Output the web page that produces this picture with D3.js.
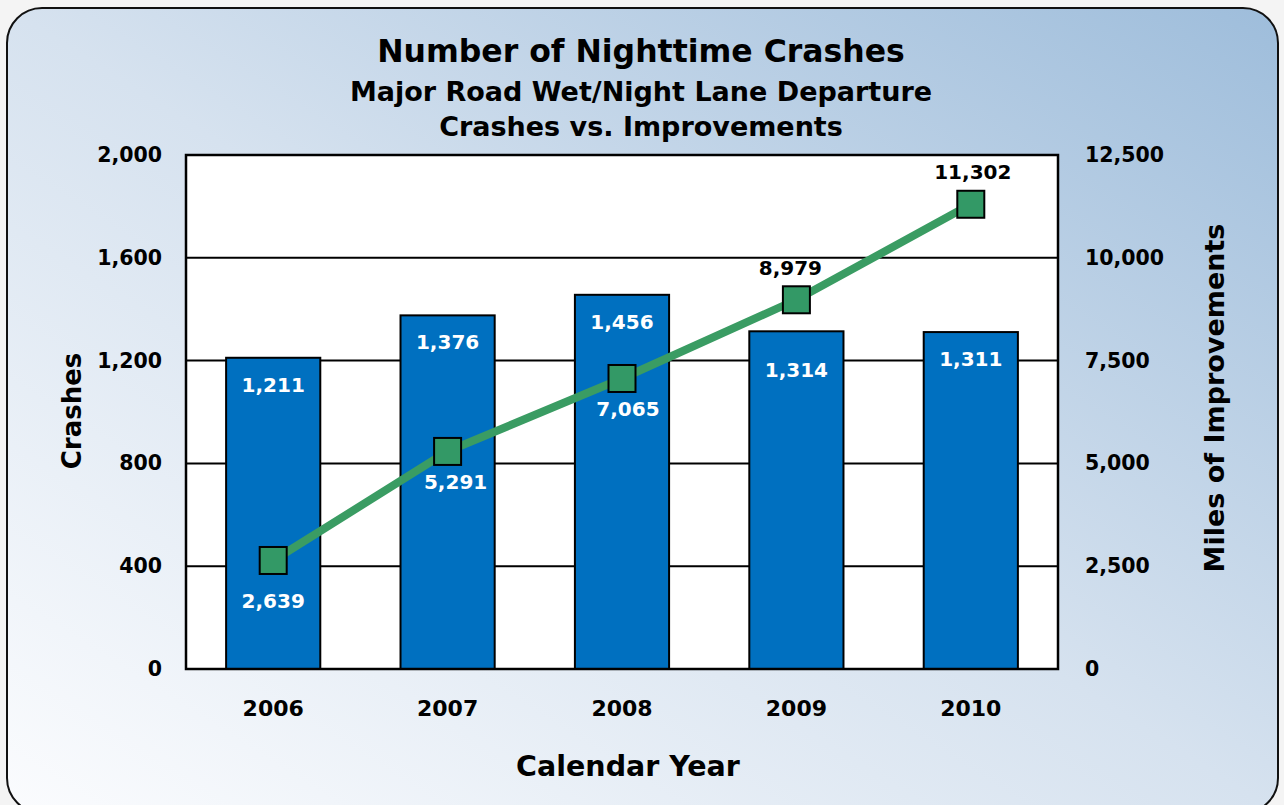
<!DOCTYPE html>
<html><head><meta charset="utf-8">
<script src="https://cdn.jsdelivr.net/npm/d3@7"></script>
<style>
html,body{margin:0;padding:0;background:#f4f4f4;}
svg{display:block;font-family:"DejaVu Sans",sans-serif;font-weight:bold;}
</style></head>
<body>
<svg id="c" width="1284" height="805"></svg>
<script>
const years = ["2006","2007","2008","2009","2010"];
const crashes = [1211, 1376, 1456, 1314, 1311];
const miles = [2639, 5291, 7065, 8979, 11302];
const leftTicks = [0, 400, 800, 1200, 1600, 2000];
const rightTicks = [0, 2500, 5000, 7500, 10000, 12500];
const titleLines = ["Number of Nighttime Crashes", "Major Road Wet/Night Lane Departure", "Crashes vs. Improvements"];

const svg = d3.select("#c");
const defs = svg.append("defs");
const g = defs.append("linearGradient").attr("id","bg").attr("x1",0).attr("y1",1).attr("x2",1).attr("y2",0);
g.append("stop").attr("offset","0%").attr("stop-color","#fbfcfe");
g.append("stop").attr("offset","50%").attr("stop-color","#d6e2ef");
g.append("stop").attr("offset","100%").attr("stop-color","#9ebddb");

svg.append("rect").attr("x",7).attr("y",8).attr("width",1271).attr("height",805)
  .attr("rx",35).attr("fill","url(#bg)").attr("stroke","#111").attr("stroke-width",2);

const L=186, R=1058, T=155, B=669;
const fmt = d3.format(",");
const x = d3.scaleBand().domain(years).range([L,R]).paddingInner(0.46).paddingOuter(0.23);
const y = d3.scaleLinear().domain([0,2000]).range([B,T]);
const y2 = d3.scaleLinear().domain([0,12500]).range([B,T]);

svg.append("rect").attr("x",L).attr("y",T).attr("width",R-L).attr("height",B-T).attr("fill","#fff");

// gridlines
svg.append("g").selectAll("line").data(leftTicks.filter(d=>d>0&&d<2000)).join("line")
  .attr("x1",L).attr("x2",R).attr("y1",d=>y(d)).attr("y2",d=>y(d))
  .attr("stroke","#000").attr("stroke-width",2);

// bars
svg.append("g").selectAll("rect").data(crashes).join("rect")
  .attr("x",(d,i)=>x(years[i])).attr("width",x.bandwidth())
  .attr("y",d=>y(d)).attr("height",d=>B-y(d))
  .attr("fill","#0070c0").attr("stroke","#000").attr("stroke-width",2);

// plot border
svg.append("rect").attr("x",L).attr("y",T).attr("width",R-L).attr("height",B-T)
  .attr("fill","none").attr("stroke","#000").attr("stroke-width",2.5);

// axes
const axL = svg.append("g").attr("transform",`translate(${L},0)`)
  .call(d3.axisLeft(y).tickValues(leftTicks).tickFormat(fmt).tickSize(0).tickPadding(24));
const axR = svg.append("g").attr("transform",`translate(${R},0)`)
  .call(d3.axisRight(y2).tickValues(rightTicks).tickFormat(fmt).tickSize(0).tickPadding(27));
const axB = svg.append("g").attr("transform",`translate(0,${B})`)
  .call(d3.axisBottom(x).tickSize(0).tickPadding(31));
[axL,axR,axB].forEach(a=>{
  a.select(".domain").remove();
  a.selectAll("text").attr("font-family","DejaVu Sans").attr("font-weight","bold")
   .attr("font-size",20.5).attr("fill","#000");
});
axB.selectAll("text").attr("font-size",22);

// bar labels
svg.append("g").selectAll("text").data(crashes).join("text")
  .attr("x",(d,i)=>x(years[i])+x.bandwidth()/2)
  .attr("y",(d,i)=>y(d)+(i===3?46:34))
  .attr("text-anchor","middle").attr("font-size",20).attr("fill","#fff")
  .text(d=>fmt(d));

// line
const cx = (i)=>x(years[i])+x.bandwidth()/2;
svg.append("path").datum(miles)
  .attr("d", d3.line().x((d,i)=>cx(i)).y(d=>y2(d)))
  .attr("fill","none").attr("stroke","#3a9c63").attr("stroke-width",8);
const ms=27;
svg.append("g").selectAll("rect").data(miles).join("rect")
  .attr("x",(d,i)=>cx(i)-ms/2).attr("y",d=>y2(d)-ms/2).attr("width",ms).attr("height",ms)
  .attr("fill","#339966").attr("stroke","#000").attr("stroke-width",2);

// line labels
const below = (i)=> i<3;
svg.append("g").selectAll("text").data(miles).join("text")
  .attr("x",(d,i)=>cx(i)+[0,8,6,-6,2][i])
  .attr("y",(d,i)=>y2(d)+(i===0?48:below(i)?38:-25))
  .attr("text-anchor","middle").attr("font-size",20)
  .attr("fill",(d,i)=>below(i)?"#fff":"#000")
  .text(d=>fmt(d));

// titles
const ts=[31.5,27,27], ty=[62,101,136];
titleLines.forEach((t,i)=>{
  svg.append("text").attr("x",641).attr("y",ty[i]).attr("text-anchor","middle")
    .attr("font-size",ts[i]).attr("fill","#000").text(t);
});

svg.append("text").attr("x",628).attr("y",776).attr("text-anchor","middle")
  .attr("font-size",28.5).text("Calendar Year");
svg.append("text").attr("transform","translate(81,411) rotate(-90)").attr("text-anchor","middle")
  .attr("font-size",26).text("Crashes");
svg.append("text").attr("transform","translate(1224,398) rotate(-90)").attr("text-anchor","middle")
  .attr("font-size",27).text("Miles of Improvements");
</script>
</body></html>
